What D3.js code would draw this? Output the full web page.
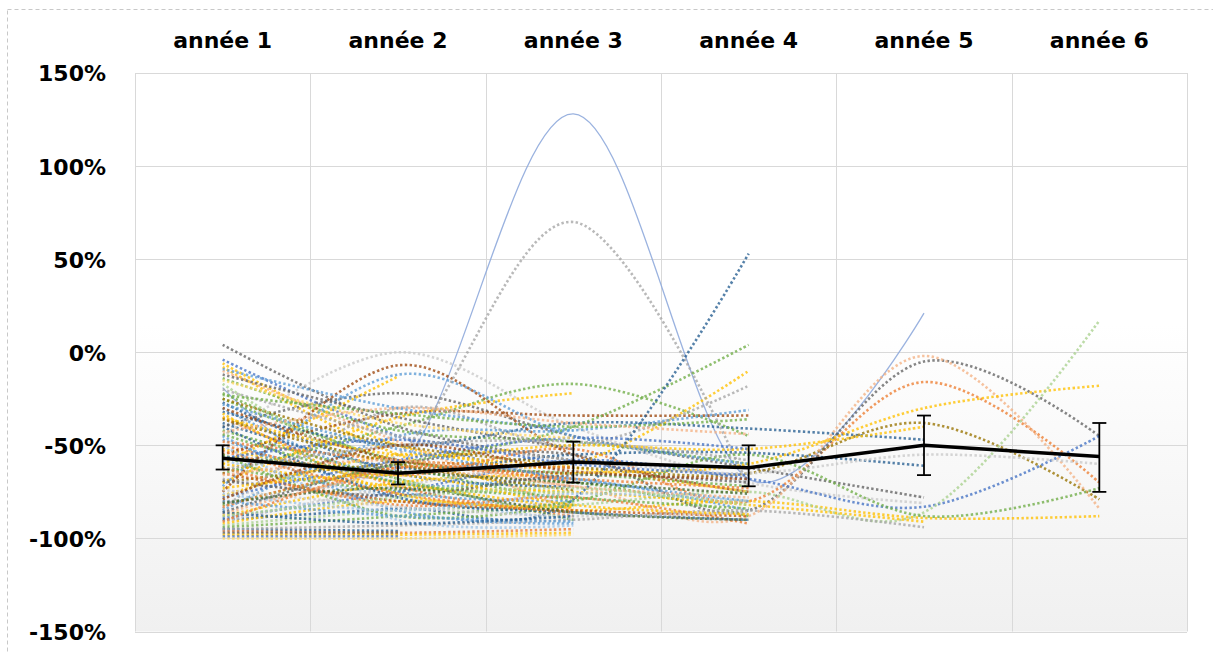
<!DOCTYPE html>
<html>
<head>
<meta charset="utf-8">
<script src="https://cdn.jsdelivr.net/npm/d3@7"></script>
<style>
  body { margin: 0; background: #fff; }
  .tick text { font-family: "DejaVu Sans", sans-serif; font-weight: 700; fill: #000; }
</style>
</head>
<body>
<div id="chart"></div>
<script>
// categories / ticks
var categories = ["année 1", "année 2", "année 3", "année 4", "année 5", "année 6"];
var yTicks = [-150, -100, -50, 0, 50, 100, 150];

// mean line and its error bars (%)
var meanValues = [-57, -65, -59, -62, -50, -56];
var errUpper = [-50, -59, -48, -50, -34, -38];
var errLower = [-63, -71, -70, -72, -66, -75];

// individual series (% per year, null = no data)
var seriesValues = [
  [4, -40, -58, null, null, null],
  [-4, -45, -70, null, null, null],
  [-6, -50, -62, -75, null, null],
  [-8, -55, -78, null, null, null],
  [-10, -48, -85, null, null, null],
  [-14, -42, -48, -60, null, null],
  [-19, -62, 128, -68, 21, null],
  [-22, -60, -80, null, null, null],
  [-25, -58, -65, -72, null, null],
  [-27, -65, -72, null, null, null],
  [-30, -70, -68, -85, null, null],
  [-32, -50, -38, -41, -47, null],
  [-35, -72, -88, null, null, null],
  [-38, -62, -55, -54, -61, null],
  [-40, -22, -45, -62, -78, null],
  [-42, -68, -90, null, null, null],
  [-45, 0, -40, -70, -81, null],
  [-47, -75, -80, null, null, null],
  [-50, -66, -52, -80, -16, -70],
  [-52, -70, -84, null, null, null],
  [-55, -33, -34, -34, null, null],
  [-58, -78, -90, null, null, null],
  [-60, -13, null, null, null, null],
  [-62, -74, -70, -88, null, null],
  [-65, -40, -17, -45, null, null],
  [-70, -60, -62, -65, -38, -79],
  [-68, -80, -82, null, null, null],
  [-70, -35, -22, null, null, null],
  [-72, -12, -45, -60, null, null],
  [-75, -7, -55, -75, null, null],
  [-77, -55, -60, -10, null, null],
  [-80, -55, 70, -72, null, null],
  [-82, -60, -40, 4, null, null],
  [-84, -30, -50, -18, null, null],
  [-85, -45, -42, -31, null, null],
  [-86, -60, -55, -85, -5, -45],
  [-87, -65, -72, -88, -2, -84],
  [-88, -70, -65, -60, -30, -18],
  [-89, -75, -58, -68, -83, -45],
  [-90, -84, -79, 53, null, null],
  [-91, -72, -60, -65, -55, -60],
  [-92, -80, -85, -80, -89, -88],
  [-93, -85, -82, -75, -86, 17],
  [-94, -88, -80, -55, -88, -73],
  [-95, -96, null, null, null, null],
  [-96, -97, -95, null, null, null],
  [-97, -97, null, null, null, null],
  [-98, -98, -97, null, null, null],
  [-99, -99, null, null, null, null],
  [-100, -100, -98, null, null, null],
  [-95, -93, -90, -85, -94, null],
  [-60, -72, -75, -82, -91, null],
  [-65, -80, -85, -88, null, null],
  [-45, -85, -92, null, null, null],
  [-50, -90, -93, null, null, null],
  [-55, -88, -82, null, null, null],
  [-62, -82, -78, -92, null, null],
  [-35, -55, -50, -52, -40, null],
  [-30, -58, -65, null, null, null],
  [-25, -50, -60, null, null, null],
  [-20, -45, -58, null, null, null],
  [-12, -35, -52, null, null, null],
  [-17, -68, -75, null, null, null],
  [-40, -78, -86, -90, null, null],
  [-78, -58, -46, -52, null, null],
  [-83, -62, -70, null, null, null],
  [-74, -83, -88, -86, null, null],
  [-80, -88, -91, null, null, null],
  [-56, -64, -70, -76, null, null],
  [-33, -76, -83, null, null, null],
  [-48, -58, -62, null, null, null],
  [-28, -52, -68, -80, null, null],
  [-36, -60, -74, null, null, null],
  [-44, -70, -78, -84, null, null],
  [-53, -76, -86, null, null, null],
  [-57, -47, -60, -66, null, null],
  [-63, -50, -48, -58, null, null],
  [-66, -58, -72, -78, null, null],
  [-69, -77, -66, -70, null, null],
  [-73, -66, -82, -87, null, null],
  [-76, -85, -76, -80, null, null],
  [-79, -50, -64, -68, null, null],
  [-81, -73, -86, -90, null, null],
  [-86, -92, -88, null, null, null],
  [-88, -78, -73, -82, null, null],
  [-91, -62, -68, -73, null, null],
  [-15, -38, -46, null, null, null],
  [-9, -30, -42, null, null, null],
  [-23, -33, -40, -36, null, null],
  [-43, -30, -38, -44, null, null]
];

// line colours, one per series
var lineColors = [
  "#636363", "#4472C4", "#FFC000", "#FFC000", "#F4B183", "#70AD47",
  "#8FAADC", "#70AD47", "#70AD47", "#255E91", "#5B9BD5", "#255E91",
  "#ED7D31", "#255E91", "#636363", "#70AD47", "#C9C9C9", "#5B9BD5",
  "#ED7D31", "#FFC000", "#9E480E", "#9DC3E6", "#FFC000", "#70AD47",
  "#70AD47", "#997300", "#A5A5A5", "#FFC000", "#5B9BD5", "#9E480E",
  "#FFC000", "#A5A5A5", "#70AD47", "#A5A5A5", "#5B9BD5", "#636363",
  "#F4B183", "#FFC000", "#4472C4", "#255E91", "#C9C9C9", "#FFC000",
  "#A9D18E", "#70AD47", "#255E91", "#ED7D31", "#636363", "#FFC000",
  "#4472C4", "#FFD966", "#A5A5A5", "#FFC000", "#C55A11", "#5B9BD5",
  "#9DC3E6", "#70AD47", "#ED7D31", "#FFC000", "#9E480E", "#997300",
  "#A5A5A5", "#636363", "#A9D18E", "#255E91", "#4472C4", "#ED7D31",
  "#C9C9C9", "#5B9BD5", "#43682B", "#FFC000", "#ED7D31",
  "#5B9BD5", "#997300", "#70AD47", "#ED7D31", "#4472C4", "#A5A5A5",
  "#F4B183", "#636363", "#FFC000", "#9DC3E6", "#9E480E", "#43682B",
  "#255E91", "#A9D18E", "#ED7D31", "#FFD966", "#5B9BD5", "#70AD47",
  "#F4B183"
];

var svgWidth = 1213;
var svgHeight = 652;
var margin = { top: 73, right: 26, bottom: 20, left: 135 };
var width = 1187 - margin.left;
var height = 631.5 - margin.top;

var svg = d3.select("#chart")
  .append("svg")
  .attr("width", svgWidth)
  .attr("height", svgHeight);

// dashed outer frame
svg.append("rect")
  .attr("x", 7.5)
  .attr("y", 9.5)
  .attr("width", 1215)
  .attr("height", 660)
  .attr("fill", "none")
  .attr("stroke", "#c8c8c8")
  .attr("stroke-dasharray", "4,3");

// plot background gradient
var grad = svg.append("defs").append("linearGradient")
  .attr("id", "bg")
  .attr("x1", 0).attr("y1", 0).attr("x2", 0).attr("y2", 1);
grad.append("stop").attr("offset", "0").attr("stop-color", "#ffffff");
grad.append("stop").attr("offset", "0.45").attr("stop-color", "#ffffff");
grad.append("stop").attr("offset", "1").attr("stop-color", "#f0f0f0");

var chartGroup = svg.append("g")
  .attr("transform", `translate(${margin.left}, ${margin.top})`);

chartGroup.append("rect")
  .attr("width", width)
  .attr("height", height)
  .attr("fill", "url(#bg)");

var xScale = d3.scaleBand()
  .domain(categories)
  .range([0, width])
  .padding(0);

var yScale = d3.scaleLinear()
  .domain([-150, 150])
  .range([height, 0]);

var xc = d => xScale(categories[d]) + xScale.bandwidth() / 2;

// gridlines
chartGroup.append("g")
  .selectAll("line")
  .data(yTicks)
  .enter()
  .append("line")
  .attr("x1", 0)
  .attr("x2", width)
  .attr("y1", d => Math.round(yScale(d)) + 0.5)
  .attr("y2", d => Math.round(yScale(d)) + 0.5)
  .attr("stroke", "#d9d9d9");

chartGroup.append("g")
  .selectAll("line")
  .data(d3.range(categories.length + 1))
  .enter()
  .append("line")
  .attr("x1", d => Math.round(d * xScale.bandwidth()) + 0.5)
  .attr("x2", d => Math.round(d * xScale.bandwidth()) + 0.5)
  .attr("y1", 0)
  .attr("y2", height)
  .attr("stroke", "#d9d9d9");

// axes
var leftAxis = d3.axisLeft(yScale)
  .tickValues(yTicks)
  .tickSize(0)
  .tickPadding(29)
  .tickFormat(d => d + "%");

chartGroup.append("g")
  .call(leftAxis)
  .call(g => g.select(".domain").remove())
  .selectAll("text")
  .attr("font-size", 22)
  .attr("dy", "0.36em");

var topAxis = d3.axisTop(xScale)
  .tickSize(0)
  .tickPadding(25);

chartGroup.append("g")
  .call(topAxis)
  .call(g => g.select(".domain").remove())
  .selectAll("text")
  .attr("font-size", 22);

// series lines
var line = d3.line()
  .defined(d => d != null)
  .x((d, i) => xc(i))
  .y(d => yScale(d))
  .curve(d3.curveCatmullRom.alpha(0));

chartGroup.append("g")
  .selectAll("path")
  .data(seriesValues)
  .enter()
  .append("path")
  .attr("d", d => line(d))
  .attr("fill", "none")
  .attr("stroke", (d, i) => lineColors[i % lineColors.length])
  .attr("stroke-width", (d, i) => i === 6 ? 1.3 : 2.6)
  .attr("stroke-dasharray", (d, i) => i === 6 ? null : "2.4,2.4")
  .attr("opacity", (d, i) => i === 6 ? 0.9 : 0.78);

// mean line
var meanLine = d3.line()
  .x((d, i) => xc(i))
  .y(d => yScale(d));

chartGroup.append("path")
  .datum(meanValues)
  .attr("d", meanLine)
  .attr("fill", "none")
  .attr("stroke", "#000")
  .attr("stroke-width", 3.5);

// error bars
var errGroup = chartGroup.append("g")
  .attr("stroke", "#000")
  .attr("stroke-width", 1.8);

meanValues.forEach(function(m, i) {
  var x = xc(i);
  errGroup.append("line")
    .attr("x1", x).attr("x2", x)
    .attr("y1", yScale(errUpper[i])).attr("y2", yScale(errLower[i]));
  errGroup.append("line")
    .attr("x1", x - 7).attr("x2", x + 7)
    .attr("y1", yScale(errUpper[i])).attr("y2", yScale(errUpper[i]));
  errGroup.append("line")
    .attr("x1", x - 7).attr("x2", x + 7)
    .attr("y1", yScale(errLower[i])).attr("y2", yScale(errLower[i]));
});
</script>
</body>
</html>
